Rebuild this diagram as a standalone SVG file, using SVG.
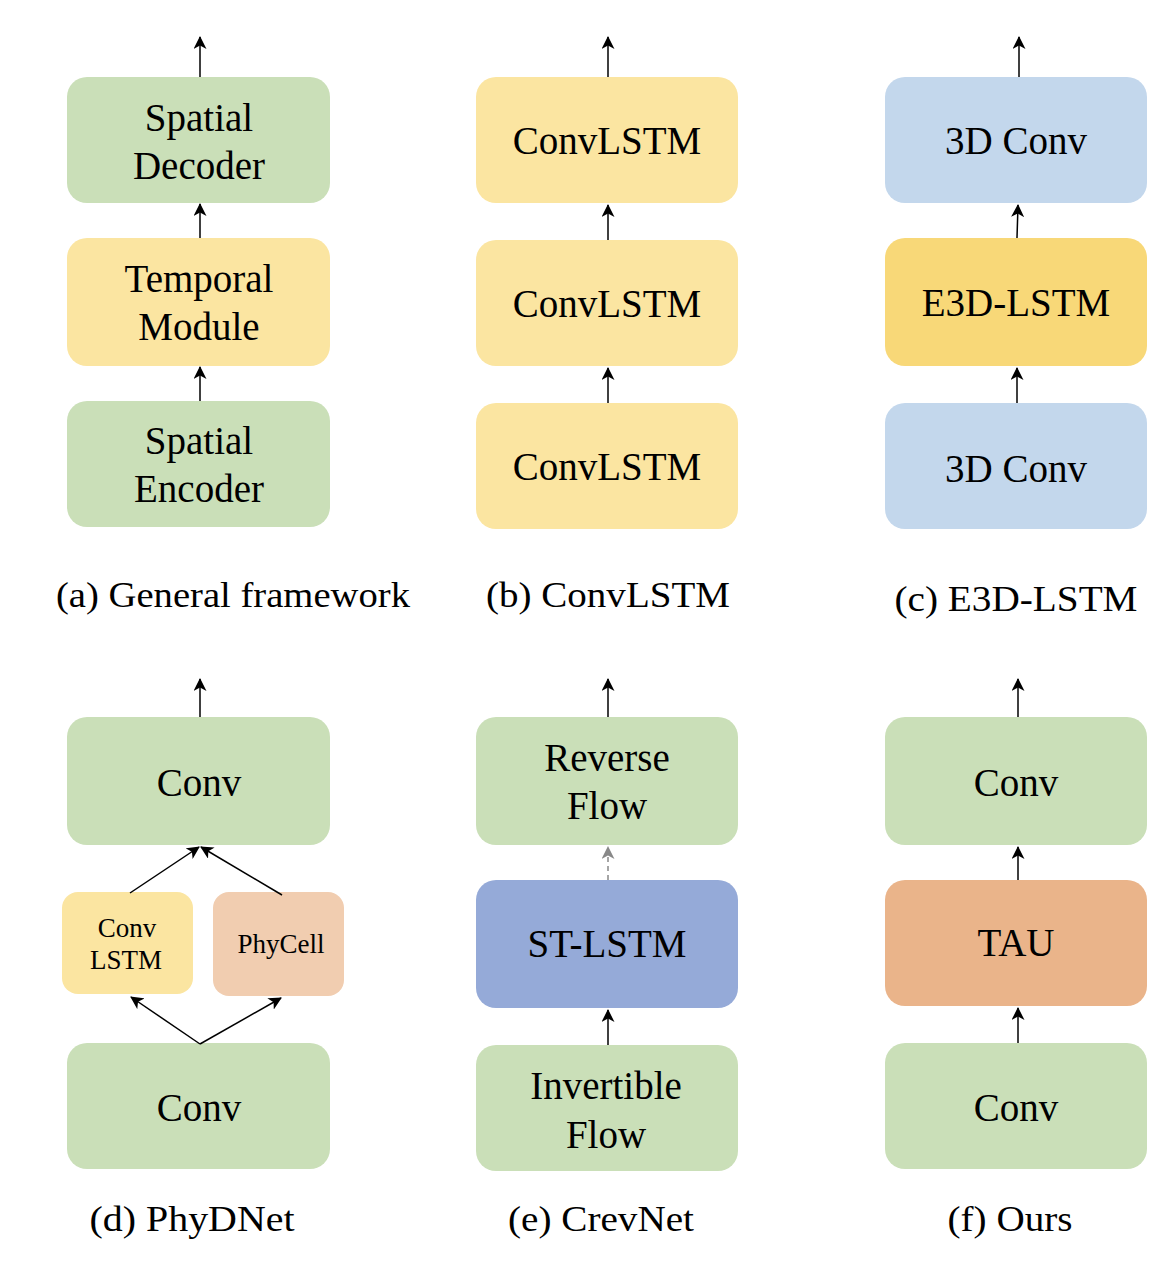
<svg xmlns="http://www.w3.org/2000/svg" width="1172" height="1266" viewBox="0 0 1172 1266">
<style>
text{font-family:"Liberation Serif","Times New Roman",serif;fill:#000;text-anchor:middle}
.t{font-size:39px}
.s{font-size:27px}
.cap{font-size:36px}
.green{fill:#CADFB8}
.yellow{fill:#FBE5A1}
.gold{fill:#F8D878}
.blue{fill:#C3D7EC}
.tau{fill:#EAB48A}
.phy{fill:#F1CDB0}
.st{fill:#95AAD8}
.c line{stroke:#000;stroke-width:1.5;marker-end:url(#ah)}
.c line.d{stroke:#888;stroke-dasharray:5,4;marker-end:url(#ahg)}
</style>
<defs>
<marker id="ah" viewBox="0 0 13 13" refX="12" refY="6.5" markerWidth="13" markerHeight="13" markerUnits="userSpaceOnUse" orient="auto">
<path d="M0,0 L13,6.5 L0,13 L3.5,6.5 z" fill="#000"/>
</marker>
<marker id="ahg" viewBox="0 0 13 13" refX="12" refY="6.5" markerWidth="13" markerHeight="13" markerUnits="userSpaceOnUse" orient="auto">
<path d="M0,0 L13,6.5 L0,13 L3.5,6.5 z" fill="#888"/>
</marker>
</defs>
<rect width="1172" height="1266" fill="#fff"/>

<g id="a-decoder"><rect class="green" x="67" y="77" width="263" height="126" rx="20"/><text class="t" x="199" y="131">Spatial</text><text class="t" x="199" y="179">Decoder</text></g>
<g id="a-temporal"><rect class="yellow" x="67" y="238" width="263" height="128" rx="20"/><text class="t" x="199" y="292">Temporal</text><text class="t" x="199" y="340">Module</text></g>
<g id="a-encoder"><rect class="green" x="67" y="401" width="263" height="126" rx="20"/><text class="t" x="199" y="454">Spatial</text><text class="t" x="199" y="502">Encoder</text></g>

<g id="b-top"><rect class="yellow" x="476" y="77" width="262" height="126" rx="20"/><text class="t" x="607" y="154">ConvLSTM</text></g>
<g id="b-mid"><rect class="yellow" x="476" y="240" width="262" height="126" rx="20"/><text class="t" x="607" y="317">ConvLSTM</text></g>
<g id="b-bot"><rect class="yellow" x="476" y="403" width="262" height="126" rx="20"/><text class="t" x="607" y="480">ConvLSTM</text></g>

<g id="c-top"><rect class="blue" x="885" y="77" width="262" height="126" rx="20"/><text class="t" x="1016" y="154">3D Conv</text></g>
<g id="c-mid"><rect class="gold" x="885" y="238" width="262" height="128" rx="20"/><text class="t" x="1016" y="316">E3D-LSTM</text></g>
<g id="c-bot"><rect class="blue" x="885" y="403" width="262" height="126" rx="20"/><text class="t" x="1016" y="482">3D Conv</text></g>

<g id="d-top"><rect class="green" x="67" y="717" width="263" height="128" rx="20"/><text class="t" x="199" y="796">Conv</text></g>
<g id="d-convlstm"><rect class="yellow" x="62" y="892" width="131" height="102" rx="16"/><text class="s" x="127" y="937">Conv</text><text class="s" x="126" y="969">LSTM</text></g>
<g id="d-phycell"><rect class="phy" x="213" y="892" width="131" height="104" rx="16"/><text class="s" x="281" y="953">PhyCell</text></g>
<g id="d-bot"><rect class="green" x="67" y="1043" width="263" height="126" rx="20"/><text class="t" x="199" y="1121">Conv</text></g>

<g id="e-top"><rect class="green" x="476" y="717" width="262" height="128" rx="20"/><text class="t" x="607" y="771">Reverse</text><text class="t" x="607" y="819">Flow</text></g>
<g id="e-mid"><rect class="st" x="476" y="880" width="262" height="128" rx="20"/><text class="t" x="607" y="957">ST-LSTM</text></g>
<g id="e-bot"><rect class="green" x="476" y="1045" width="262" height="126" rx="20"/><text class="t" x="606" y="1099">Invertible</text><text class="t" x="606" y="1148">Flow</text></g>

<g id="f-top"><rect class="green" x="885" y="717" width="262" height="128" rx="20"/><text class="t" x="1016" y="796">Conv</text></g>
<g id="f-mid"><rect class="tau" x="885" y="880" width="262" height="126" rx="20"/><text class="t" x="1016" y="956">TAU</text></g>
<g id="f-bot"><rect class="green" x="885" y="1043" width="262" height="126" rx="20"/><text class="t" x="1016" y="1121">Conv</text></g>

<g class="c" id="connectors">
<line x1="200" y1="77" x2="200" y2="37"/>
<line x1="200" y1="238" x2="200" y2="204"/>
<line x1="200" y1="401" x2="200" y2="367"/>
<line x1="608" y1="77" x2="608" y2="37"/>
<line x1="608" y1="240" x2="608" y2="205"/>
<line x1="608" y1="403" x2="608" y2="368"/>
<line x1="1019" y1="77" x2="1019" y2="37"/>
<line x1="1017" y1="238" x2="1018" y2="205"/>
<line x1="1017" y1="403" x2="1017" y2="368"/>
<line x1="200" y1="717" x2="200" y2="679"/>
<line x1="130" y1="893" x2="199" y2="847"/>
<line x1="282" y1="895" x2="201" y2="847"/>
<line x1="200" y1="1044" x2="131" y2="997"/>
<line x1="200" y1="1044" x2="281" y2="998"/>
<line x1="608" y1="717" x2="608" y2="679"/>
<line class="d" x1="608" y1="880" x2="608" y2="847"/>
<line x1="608" y1="1045" x2="608" y2="1010"/>
<line x1="1018" y1="717" x2="1018" y2="679"/>
<line x1="1018" y1="880" x2="1018" y2="847"/>
<line x1="1018" y1="1043" x2="1018" y2="1008"/>
</g>

<g id="captions">
<text class="cap" x="233" y="607" textLength="354" lengthAdjust="spacingAndGlyphs">(a) General framework</text>
<text class="cap" x="608" y="607" textLength="244" lengthAdjust="spacingAndGlyphs">(b) ConvLSTM</text>
<text class="cap" x="1016" y="611" textLength="243" lengthAdjust="spacingAndGlyphs">(c) E3D-LSTM</text>
<text class="cap" x="192" y="1231" textLength="205" lengthAdjust="spacingAndGlyphs">(d) PhyDNet</text>
<text class="cap" x="601" y="1231" textLength="186" lengthAdjust="spacingAndGlyphs">(e) CrevNet</text>
<text class="cap" x="1010" y="1231" textLength="125" lengthAdjust="spacingAndGlyphs">(f) Ours</text>
</g>
</svg>
